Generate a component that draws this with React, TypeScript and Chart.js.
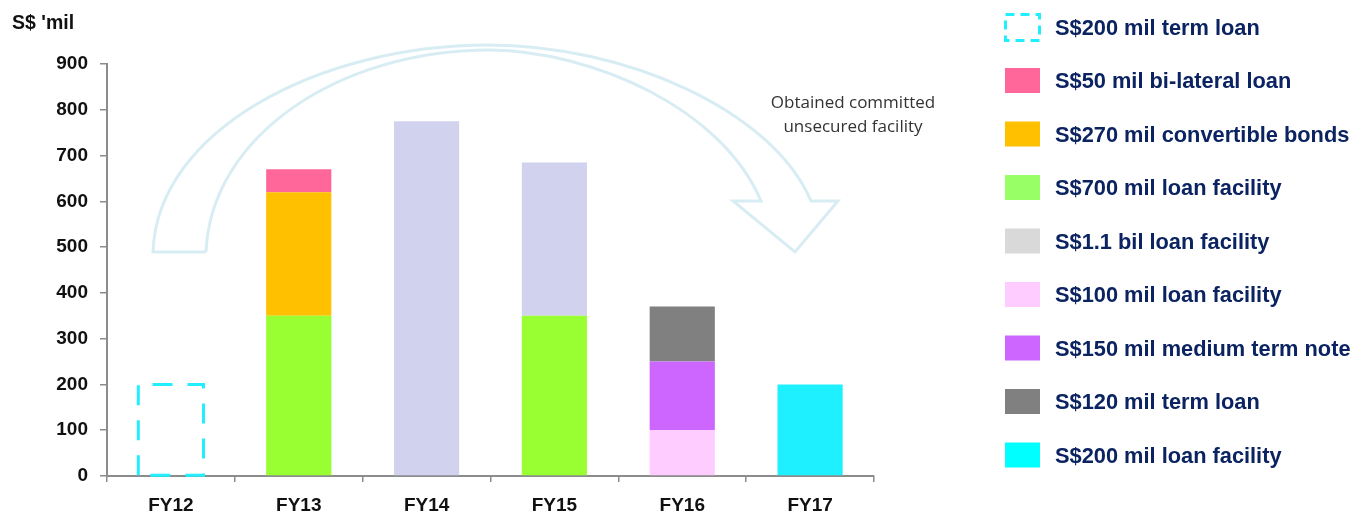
import React, { useEffect, useRef } from "react";
import { Chart, registerables } from "chart.js";

Chart.register(...registerables);

const categories = ["FY12", "FY13", "FY14", "FY15", "FY16", "FY17"];

const termLoan200 = [200, 0, 0, 0, 0, 0];
const loan700 = [0, 350, 0, 350, 0, 0];
const loan1100 = [0, 0, 775, 335, 0, 0];
const convertible270 = [0, 270, 0, 0, 0, 0];
const bilateral50 = [0, 50, 0, 0, 0, 0];
const loan100 = [0, 0, 0, 0, 100, 0];
const mtn150 = [0, 0, 0, 0, 150, 0];
const termLoan120 = [0, 0, 0, 0, 120, 0];
const loan200 = [0, 0, 0, 0, 0, 200];

const legendLabels = [
  "S$200 mil term loan",
  "S$50 mil bi-lateral loan",
  "S$270 mil convertible bonds",
  "S$700 mil loan facility",
  "S$1.1 bil loan facility",
  "S$100 mil loan facility",
  "S$150 mil medium term note",
  "S$120 mil term loan",
  "S$200 mil loan facility",
];
const legendColors = [
  "dashed",
  "#FF6699",
  "#FFC000",
  "#99FF66",
  "#D9D9D9",
  "#FFCCFF",
  "#CC66FF",
  "#808080",
  "#00FFFF",
];

const yTitle = "S$ 'mil";
const noteLines = ["Obtained committed", "unsecured facility"];

const DASH_COLOR = "#22EEFF";
const ARROW_COLOR = "#D8EDF3";
const NAVY = "#0B2461";

const decorPlugin = {
  id: "decor",
  beforeDatasetsDraw(chart: any) {
    const ctx = chart.ctx;
    ctx.save();
    ctx.strokeStyle = ARROW_COLOR;
    ctx.lineWidth = 3;
    ctx.lineJoin = "miter";
    ctx.beginPath();
    ctx.moveTo(206, 252);
    ctx.lineTo(153, 252);
    ctx.bezierCurveTo(157, 130, 320, 45, 488, 45);
    ctx.bezierCurveTo(625, 45, 772, 110, 811, 201);
    ctx.lineTo(838, 201);
    ctx.lineTo(795, 252);
    ctx.lineTo(733, 201);
    ctx.lineTo(761, 201);
    ctx.bezierCurveTo(722, 108, 592, 51, 490, 50);
    ctx.bezierCurveTo(340, 50, 211, 135, 206, 252);
    ctx.stroke();
    ctx.restore();
  },
  afterDatasetsDraw(chart: any) {
    const ctx = chart.ctx;
    const meta = chart.getDatasetMeta(0);
    const el = meta.data[0];
    if (el) {
      const p = el.getProps(["x", "y", "base", "width"], true);
      const left = p.x - p.width / 2;
      const right = p.x + p.width / 2;
      ctx.save();
      ctx.strokeStyle = DASH_COLOR;
      ctx.lineWidth = 3;
      ctx.setLineDash([20, 15]);
      ctx.beginPath();
      ctx.moveTo(left, p.base);
      ctx.lineTo(left, p.y);
      ctx.lineTo(right, p.y);
      ctx.lineTo(right, p.base);
      ctx.closePath();
      ctx.stroke();
      ctx.restore();
    }
  },
  afterDraw(chart: any) {
    const ctx = chart.ctx;
    ctx.save();
    ctx.fillStyle = "#111";
    ctx.font = "bold 19.5px 'Liberation Sans', Arial, sans-serif";
    ctx.textBaseline = "middle";
    ctx.textAlign = "left";
    ctx.fillText(yTitle, 12, 24);

    ctx.fillStyle = "#333";
    ctx.font = "17px 'Open Sans', sans-serif";
    ctx.textAlign = "center";
    ctx.fillText(noteLines[0], 853, 103, 170);
    ctx.fillText(noteLines[1], 853, 127, 170);

    const x0 = 1005;
    const y0 = 27.5;
    const dy = 53.5;
    ctx.textAlign = "left";
    ctx.font = "bold 21.8px 'Liberation Sans', Arial, sans-serif";
    legendLabels.forEach((lab, i) => {
      const cy = y0 + i * dy;
      const c = legendColors[i];
      if (c === "dashed") {
        ctx.save();
        ctx.strokeStyle = DASH_COLOR;
        ctx.lineWidth = 3;
        ctx.setLineDash([9, 6]);
        ctx.beginPath();
        ctx.rect(x0 + 0.5, cy - 13, 34, 26);
        ctx.stroke();
        ctx.restore();
      } else {
        ctx.fillStyle = c;
        ctx.fillRect(x0, cy - 13, 35, 25);
      }
      ctx.fillStyle = NAVY;
      ctx.fillText(lab, 1055, cy + 1);
    });
    ctx.restore();
  },
};

export default function App() {
  const ref = useRef<HTMLCanvasElement | null>(null);
  useEffect(() => {
    if (!ref.current) return;
    const mk = (label: string, data: number[], color: string) => ({
      label,
      data,
      backgroundColor: color,
      borderWidth: 0,
      barPercentage: 1,
      categoryPercentage: 0.51,
    });
    const chart = new Chart(ref.current, {
      type: "bar",
      data: {
        labels: categories,
        datasets: [
          mk("S$200 mil term loan", termLoan200, "rgba(0,0,0,0)"),
          mk("S$700 mil loan facility", loan700, "#99FF33"),
          mk("S$1.1 bil loan facility", loan1100, "#D0D2EE"),
          mk("S$270 mil convertible bonds", convertible270, "#FFC000"),
          mk("S$50 mil bi-lateral loan", bilateral50, "#FF6699"),
          mk("S$100 mil loan facility", loan100, "#FFCCFF"),
          mk("S$150 mil medium term note", mtn150, "#CC66FF"),
          mk("S$120 mil term loan", termLoan120, "#808080"),
          mk("S$200 mil loan facility", loan200, "#1FF0FF"),
        ],
      },
      options: {
        responsive: false,
        animation: false,
        devicePixelRatio: 1,
        layout: { padding: { top: 64, right: 484, left: 0, bottom: 0 } },
        plugins: { legend: { display: false }, tooltip: { enabled: false } },
        scales: {
          x: {
            stacked: true,
            afterFit: (s: any) => {
              s.height = 40;
            },
            grid: {
              display: true,
              drawOnChartArea: false,
              offset: true,
              tickLength: 6,
              color: "#8C8C8C",
              lineWidth: 1.5,
            },
            border: { display: true, color: "#8C8C8C", width: 2 },
            ticks: {
              color: "#111",
              font: { family: "'Liberation Sans', Arial, sans-serif", size: 19, weight: "bold" },
              padding: 12,
            },
          },
          y: {
            stacked: true,
            min: 0,
            max: 900,
            afterFit: (s: any) => {
              s.width = 107;
            },
            grid: {
              display: true,
              drawOnChartArea: false,
              tickLength: 7,
              color: "#8C8C8C",
              lineWidth: 1.5,
            },
            border: { display: true, color: "#8C8C8C", width: 2 },
            ticks: {
              stepSize: 100,
              color: "#111",
              font: { family: "'Liberation Sans', Arial, sans-serif", size: 19, weight: "bold" },
              padding: 12,
            },
          },
        },
      },
      plugins: [decorPlugin],
    });
    return () => chart.destroy();
  }, []);
  return (
    <div style={{ position: "absolute", left: 0, top: 0, width: 1358, height: 516, background: "#fff" }}>
      <canvas ref={ref} width={1358} height={516} />
    </div>
  );
}
